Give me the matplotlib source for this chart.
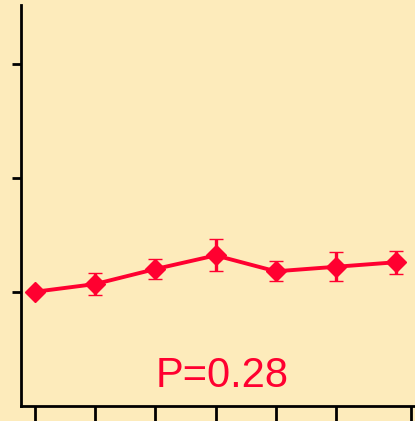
import matplotlib
matplotlib.use("Agg")
import matplotlib.pyplot as plt

# Time points and normalised response (mean ± SEM)
timepoints = [0, 1, 2, 3, 4, 5, 6]
mean_values = [1.00, 1.034, 1.10, 1.16, 1.09, 1.11, 1.13]
sem_values = [0.0, 0.048, 0.044, 0.070, 0.044, 0.064, 0.051]
x_ticks = [0, 1, 2, 3, 4, 5, 6.25]
y_ticks = [1.0, 1.5, 2.0]
p_label = "P=0.28"

bg = "#FDEBBB"
red = "#FF0030"

W, H = 415, 421
fig = plt.figure(figsize=(W / 100, H / 100), dpi=100, facecolor=bg)
left_px, right_px, top_px, bottom_px = 20.5, 415, 5, 405.5
ax = fig.add_axes([left_px / W, (H - bottom_px) / H,
                   (right_px - left_px) / W, (bottom_px - top_px) / H])
ax.set_facecolor(bg)

ax.errorbar(timepoints, mean_values, yerr=sem_values, color=red, lw=2.8,
            marker="D", markersize=10, markeredgewidth=1, markeredgecolor=red,
            elinewidth=2.4, capsize=4.8, capthick=2.6, zorder=3)

ax.set_xlim(-0.241, 6.312)
ax.set_ylim(0.5, 2.261)
ax.set_xticks(x_ticks)
ax.set_yticks(y_ticks)
ax.set_xticklabels([])
ax.set_yticklabels([])

for side in ("top", "right"):
    ax.spines[side].set_visible(False)
for side in ("left", "bottom"):
    ax.spines[side].set_linewidth(2)
    ax.spines[side].set_color("black")
ax.tick_params(axis="y", direction="out", length=6.5, width=2, color="black")
ax.tick_params(axis="x", direction="out", length=14, width=2, color="black")

ax.text(0.511, 0.046, p_label, transform=ax.transAxes, ha="center",
        va="baseline", fontsize=30, color=red, family="Liberation Sans")

fig.savefig("out.png", dpi=100, facecolor=bg)
